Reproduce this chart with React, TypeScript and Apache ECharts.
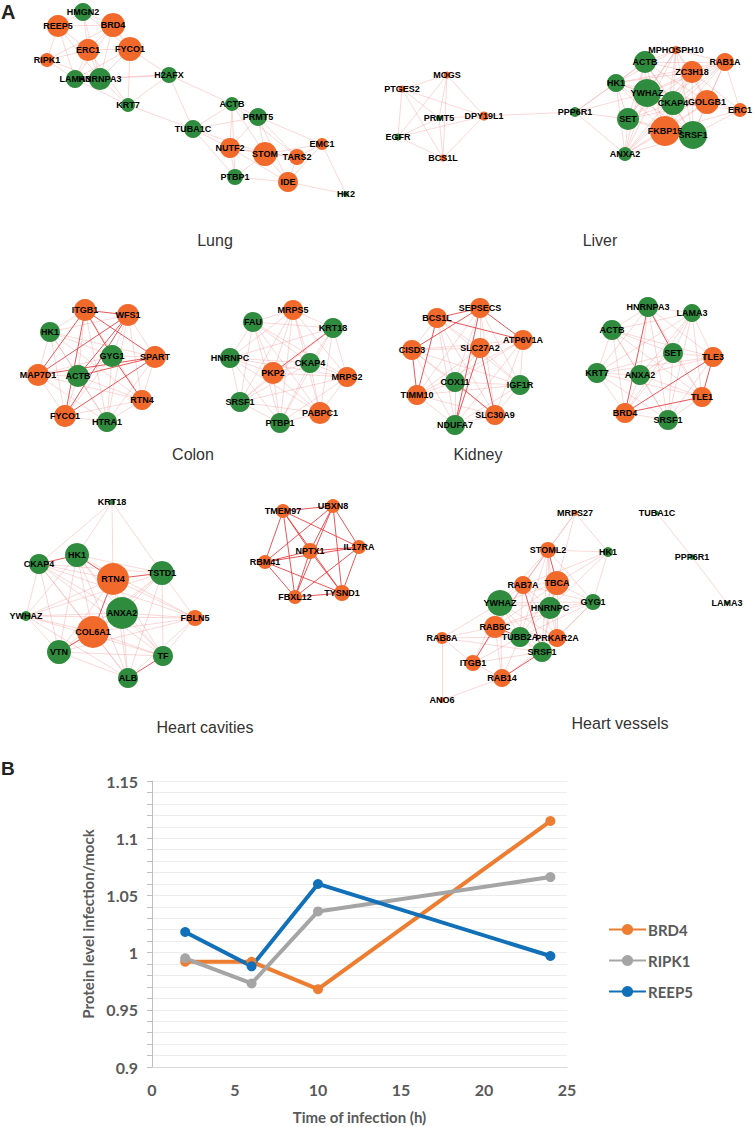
import React, { useEffect, useRef } from "react";
import * as echarts from "echarts";

type N = [string, number, number, number, "up" | "down"];

// ---------- Panel A: network tables (name, layout x, layout y, weight, regulation) ----------
const lungNodes: N[] = [
  ["HMGN2", 83, 12, 9, "down"], ["REEP5", 58, 26, 11, "up"], ["BRD4", 113, 25, 12, "up"],
  ["ERC1", 88, 50, 11, "up"], ["FYCO1", 130, 49, 12, "up"], ["RIPK1", 47, 60, 7, "up"],
  ["LAMA3", 75, 79, 9, "down"], ["HNRNPA3", 100, 79, 11, "down"], ["H2AFX", 169, 75, 8, "down"],
  ["KRT7", 128, 105, 7, "down"], ["ACTB", 232, 104, 7, "down"], ["PRMT5", 258, 117, 9, "down"],
  ["TUBA1C", 193, 129, 9, "down"], ["NUTF2", 230, 148, 10, "up"], ["STOM", 265, 154, 12, "up"],
  ["TARS2", 297, 157, 8, "up"], ["EMC1", 322, 144, 6, "up"], ["IDE", 288, 182, 10, "up"],
  ["PTBP1", 235, 177, 8, "down"], ["HK2", 346, 194, 3, "down"],
];
const lungEdges =
  "HMGN2-REEP5 HMGN2-BRD4 HMGN2-ERC1 HMGN2-FYCO1 HMGN2-HNRNPA3 REEP5-BRD4 REEP5-ERC1 REEP5-RIPK1 REEP5-LAMA3 REEP5-HNRNPA3 BRD4-ERC1 BRD4-FYCO1 BRD4-HNRNPA3 BRD4-LAMA3 BRD4-RIPK1 ERC1-FYCO1 ERC1-RIPK1 ERC1-LAMA3 ERC1-HNRNPA3 ERC1-KRT7 FYCO1-LAMA3 FYCO1-HNRNPA3 FYCO1-H2AFX FYCO1-KRT7 RIPK1-LAMA3 RIPK1-HNRNPA3 LAMA3-HNRNPA3 LAMA3-KRT7 LAMA3-H2AFX HNRNPA3-H2AFX HNRNPA3-KRT7 H2AFX-KRT7 H2AFX-TUBA1C H2AFX-ACTB KRT7-TUBA1C TUBA1C-ACTB TUBA1C-NUTF2 TUBA1C-PTBP1 TUBA1C-PRMT5 TUBA1C-STOM ACTB-PRMT5 ACTB-NUTF2 ACTB-STOM ACTB-PTBP1 ACTB-TARS2 PRMT5-NUTF2 PRMT5-STOM PRMT5-TARS2 PRMT5-EMC1 PRMT5-IDE NUTF2-STOM NUTF2-PTBP1 NUTF2-IDE NUTF2-TARS2 STOM-PTBP1 STOM-IDE STOM-TARS2 STOM-EMC1 TARS2-IDE TARS2-EMC1 EMC1-IDE PTBP1-IDE IDE-HK2 EMC1-HK2";

const liverNodes: N[] = [
  ["MOGS", 447, 75, 3.5, "up"], ["PTGES2", 402, 89, 3.5, "up"], ["PRMT5", 439, 118, 3, "down"],
  ["DPY19L1", 484, 116, 4.5, "up"], ["EGFR", 398, 137, 3.5, "down"], ["BCS1L", 443, 158, 3.5, "up"],
  ["MPHOSPH10", 676, 50, 4, "up"], ["RAB1A", 725, 62, 9, "up"], ["ACTB", 645, 62, 11, "down"],
  ["ZC3H18", 692, 72, 11, "up"], ["HK1", 616, 83, 9, "down"], ["YWHAZ", 647, 93, 14, "down"],
  ["CKAP4", 673, 103, 12, "down"], ["GOLGB1", 707, 102, 12, "up"], ["ERC1", 740, 110, 7, "up"],
  ["PPP6R1", 575, 112, 5, "down"], ["SET", 628, 119, 11, "down"], ["FKBP15", 665, 131, 15, "up"],
  ["SRSF1", 693, 135, 14, "down"], ["ANXA2", 625, 154, 7, "down"],
];
const liverEdges =
  "MOGS-PTGES2 MOGS-PRMT5 MOGS-DPY19L1 MOGS-BCS1L MOGS-EGFR PTGES2-EGFR PTGES2-PRMT5 PTGES2-BCS1L PTGES2-DPY19L1 PRMT5-EGFR PRMT5-BCS1L PRMT5-DPY19L1 EGFR-DPY19L1 EGFR-BCS1L BCS1L-DPY19L1 DPY19L1-PPP6R1 PPP6R1-HK1 PPP6R1-SET PPP6R1-ANXA2 PPP6R1-ACTB PPP6R1-YWHAZ ERC1-RAB1A ERC1-GOLGB1 ERC1-SRSF1 ERC1-ZC3H18 ERC1-CKAP4 ERC1-FKBP15";
const liverDense = ["MPHOSPH10", "RAB1A", "ACTB", "ZC3H18", "HK1", "YWHAZ", "CKAP4", "GOLGB1", "SET", "FKBP15", "SRSF1", "ANXA2"];

const colonNodesA: N[] = [
  ["ITGB1", 85, 310, 11, "up"], ["WFS1", 128, 315, 11, "up"], ["HK1", 50, 332, 10, "down"],
  ["GYG1", 112, 356, 11, "down"], ["SPART", 155, 357, 11, "up"], ["MAP7D1", 38, 375, 11, "up"],
  ["ACTB", 78, 376, 11, "down"], ["RTN4", 142, 400, 10, "up"], ["FYCO1", 65, 416, 11, "up"],
  ["HTRA1", 107, 422, 10, "down"],
];
const colonStrongA = "ITGB1-WFS1 ITGB1-GYG1 ITGB1-MAP7D1 ITGB1-FYCO1 WFS1-MAP7D1 WFS1-ACTB WFS1-FYCO1 SPART-FYCO1 SPART-ACTB SPART-MAP7D1 GYG1-RTN4 ITGB1-SPART";
const colonNodesB: N[] = [
  ["MRPS5", 293, 310, 10, "up"], ["FAU", 253, 322, 10, "down"], ["KRT18", 333, 328, 10, "down"],
  ["HNRNPC", 230, 358, 10, "down"], ["CKAP4", 310, 363, 10, "down"], ["PKP2", 273, 373, 11, "up"],
  ["MRPS2", 347, 377, 10, "up"], ["SRSF1", 240, 402, 10, "down"], ["PABPC1", 320, 413, 11, "up"],
  ["PTBP1", 280, 423, 10, "down"],
];
const colonStrongB = "PKP2-KRT18";

const kidneyNodesA: N[] = [
  ["SEPSECS", 480, 308, 10, "up"], ["BCS1L", 437, 318, 10, "up"], ["ATP6V1A", 523, 340, 10, "up"],
  ["CISD3", 412, 350, 10, "up"], ["SLC27A2", 480, 348, 10, "up"], ["COX11", 455, 382, 10, "down"],
  ["IGF1R", 520, 385, 10, "down"], ["TIMM10", 417, 395, 10, "up"], ["SLC30A9", 495, 415, 10, "up"],
  ["NDUFA7", 455, 425, 10, "down"],
];
const kidneyStrongA = "BCS1L-SEPSECS SEPSECS-CISD3 SEPSECS-ATP6V1A BCS1L-ATP6V1A CISD3-TIMM10 BCS1L-TIMM10 SLC27A2-SLC30A9 COX11-SLC30A9 SEPSECS-NDUFA7 SLC27A2-NDUFA7";
const kidneyNodesB: N[] = [
  ["HNRNPA3", 648, 307, 10, "down"], ["LAMA3", 692, 313, 9, "down"], ["ACTB", 612, 330, 10, "down"],
  ["SET", 673, 353, 10, "down"], ["TLE3", 713, 357, 10, "up"], ["KRT7", 597, 373, 10, "down"],
  ["ANXA2", 640, 375, 10, "down"], ["TLE1", 702, 397, 10, "up"], ["BRD4", 625, 413, 10, "up"],
  ["SRSF1", 668, 420, 10, "down"],
];
const kidneyStrongB = "HNRNPA3-BRD4 HNRNPA3-SET BRD4-TLE3 BRD4-TLE1 TLE3-TLE1";

const cavNodesA: N[] = [
  ["KRT18", 112, 502, 3, "down"], ["CKAP4", 39, 564, 10, "down"], ["HK1", 77, 555, 12, "down"],
  ["RTN4", 113, 579, 16, "up"], ["TSTD1", 162, 573, 12, "down"], ["YWHAZ", 26, 616, 5, "down"],
  ["ANXA2", 122, 613, 16, "down"], ["FBLN5", 195, 618, 8, "up"], ["COL6A1", 93, 632, 16, "up"],
  ["VTN", 59, 652, 12, "down"], ["TF", 163, 656, 10, "down"], ["ALB", 128, 678, 10, "down"],
];
const cavEdgesA = "KRT18-CKAP4 KRT18-HK1 KRT18-RTN4 KRT18-TSTD1";
const cavDenseA = ["CKAP4", "HK1", "RTN4", "TSTD1", "YWHAZ", "ANXA2", "FBLN5", "COL6A1", "VTN", "TF", "ALB"];
const cavStrongA = "RTN4-HK1 RTN4-TSTD1 COL6A1-VTN ALB-TF RTN4-COL6A1 HK1-CKAP4";
const cavNodesB: N[] = [
  ["TMEM97", 283, 511, 7, "up"], ["UBXN8", 333, 506, 7, "up"], ["IL17RA", 359, 547, 7, "up"],
  ["NPTX1", 310, 551, 8, "up"], ["RBM41", 265, 562, 7, "up"], ["FBXL12", 295, 597, 7, "up"],
  ["TYSND1", 342, 593, 8, "up"],
];

const vesNodes: N[] = [
  ["MRPS27", 575, 513, 3, "up"], ["TUBA1C", 657, 513, 2, "down"], ["STOML2", 548, 550, 8, "up"],
  ["HK1", 608, 552, 5, "down"], ["PPP6R1", 692, 557, 3, "down"], ["RAB7A", 523, 585, 9, "up"],
  ["TBCA", 557, 583, 12, "up"], ["YWHAZ", 500, 603, 13, "down"], ["HNRNPC", 550, 608, 11, "down"],
  ["GYG1", 593, 602, 8, "down"], ["LAMA3", 727, 603, 2, "down"], ["RAB5C", 495, 627, 11, "up"],
  ["TUBB2A", 520, 637, 10, "down"], ["PRKAR2A", 557, 638, 9, "up"], ["RAB8A", 442, 638, 6, "up"],
  ["SRSF1", 542, 652, 10, "down"], ["ITGB1", 473, 663, 8, "up"], ["RAB14", 502, 678, 9, "up"],
  ["ANO6", 442, 700, 3, "up"],
];
const vesEdges =
  "MRPS27-STOML2 MRPS27-HK1 MRPS27-TBCA MRPS27-RAB7A HK1-STOML2 HK1-TBCA HK1-GYG1 HK1-HNRNPC HK1-RAB7A RAB8A-RAB5C RAB8A-ITGB1 RAB8A-YWHAZ RAB8A-ANO6 RAB8A-TUBB2A RAB8A-SRSF1 ITGB1-RAB5C ITGB1-TUBB2A ITGB1-RAB14 ITGB1-SRSF1 ITGB1-YWHAZ ITGB1-RAB7A RAB14-RAB5C RAB14-TUBB2A RAB14-SRSF1 RAB14-ANO6 RAB14-PRKAR2A RAB14-YWHAZ TUBA1C-PPP6R1 PPP6R1-LAMA3";
const vesDense = ["RAB7A", "TBCA", "YWHAZ", "HNRNPC", "GYG1", "RAB5C", "TUBB2A", "PRKAR2A", "SRSF1", "STOML2"];
const vesStrong = "RAB7A-SRSF1 STOML2-TBCA RAB5C-ITGB1 RAB14-SRSF1 RAB5C-TUBB2A";

const panelTitles: [string, number, number][] = [
  ["Lung", 215, 240], ["Liver", 600, 240], ["Colon", 193, 454], ["Kidney", 478, 454],
  ["Heart cavities", 205, 727], ["Heart vessels", 620, 723],
];

// ---------- Panel B: line chart ----------
const hours = [2, 6, 10, 24];
const brd4 = [0.992, 0.992, 0.968, 1.115];
const ripk1 = [0.995, 0.973, 1.036, 1.066];
const reep5 = [1.018, 0.988, 1.06, 0.997];
const lineNames = ["BRD4", "RIPK1", "REEP5"];
const lineValues = [brd4, ripk1, reep5];

const ORANGE = "#F26A2B";
const GREEN = "#2F8C3E";
const LINE_COLORS = ["#ED7D31", "#A5A5A5", "#1170B8"];

function graphSeries(nodes: N[], edges: string, strong: string | "ALL", dense: string[] = []) {
  const pairs: [string, string][] = edges.split(/\s+/).filter(Boolean).map((s) => s.split("-") as [string, string]);
  for (let i = 0; i < dense.length; i++)
    for (let j = i + 1; j < dense.length; j++) pairs.push([dense[i], dense[j]]);
  const seen = new Set<string>();
  const strongSet = new Set(strong === "ALL" ? [] : strong.split(/\s+/).filter(Boolean));
  const links: any[] = [];
  pairs.forEach(([a, b]) => {
    const k = a < b ? a + "|" + b : b + "|" + a;
    if (seen.has(k)) return;
    seen.add(k);
    const st = strong === "ALL" || strongSet.has(a + "-" + b) || strongSet.has(b + "-" + a);
    links.push({
      source: a,
      target: b,
      lineStyle: st
        ? { color: "#E8383D", opacity: 0.85, width: 1 }
        : { color: "#F07A7A", opacity: 0.42, width: 0.7 },
    });
  });
  return {
    type: "graph",
    coordinateSystem: "cartesian2d",
    xAxisIndex: 0,
    yAxisIndex: 0,
    layout: "none",
    silent: true,
    data: nodes.map(([name, x, y, w, reg]) => ({
      name,
      value: [x, y],
      symbolSize: w * 2,
      itemStyle: { color: reg === "up" ? ORANGE : GREEN },
    })),
    links,
    label: {
      show: true,
      position: "inside",
      color: "#000",
      fontSize: 9,
      fontWeight: "bold",
      fontFamily: "Liberation Sans, Arial, sans-serif",
    },
    emphasis: { disabled: true },
  };
}

export default function App() {
  const ref = useRef<HTMLDivElement>(null);
  useEffect(() => {
    if (!ref.current) return;
    const chart = echarts.init(ref.current, undefined, { renderer: "svg" });
    const axisFont = { fontFamily: "Lato, sans-serif", fontWeight: "bold" as const, color: "#595959" };
    const option: any = {
      animation: false,
      backgroundColor: "#fff",
      grid: [
        { left: 0, top: 0, width: 754, height: 1127, show: false },
        { left: 152, top: 781, width: 415, height: 286, show: false },
      ],
      xAxis: [
        { gridIndex: 0, type: "value", min: 0, max: 754, show: false },
        {
          gridIndex: 1, type: "value", min: 0, max: 25, interval: 5,
          axisLine: { show: true, lineStyle: { color: "#D9D9D9", width: 1 } },
          axisTick: { show: false },
          splitLine: { show: false },
          axisLabel: { ...axisFont, fontSize: 16, margin: 14 },
          name: "Time of infection (h)",
          nameLocation: "middle",
          nameGap: 42,
          nameTextStyle: { ...axisFont, fontSize: 15 },
        },
      ],
      yAxis: [
        { gridIndex: 0, type: "value", min: 0, max: 1127, inverse: true, show: false },
        {
          gridIndex: 1, type: "value", min: 0.9, max: 1.15, interval: 0.01,
          axisLine: { show: true, lineStyle: { color: "#BFBFBF", width: 1 } },
          axisTick: { show: true, length: 5, lineStyle: { color: "#BFBFBF" } },
          splitLine: { show: true, lineStyle: { color: "#EDEDED", width: 1 } },
          axisLabel: {
            ...axisFont, fontSize: 16, margin: 14,
            formatter: (v: number) => {
              const c = Math.round(v * 100);
              return c % 5 === 0 ? String(c / 100) : "";
            },
          },
          name: "Protein level infection/mock",
          nameLocation: "middle",
          nameRotate: 90,
          nameGap: 52,
          nameTextStyle: { ...axisFont, fontSize: 15 },
        },
      ],
      legend: {
        orient: "vertical",
        left: 603,
        top: 917,
        itemWidth: 37,
        itemHeight: 14,
        itemGap: 16,
        data: lineNames,
        textStyle: { ...axisFont, fontSize: 15, padding: [0, 0, 0, -3] },
      },
      series: [
        graphSeries(lungNodes, lungEdges, ""),
        graphSeries(liverNodes, liverEdges, "", liverDense),
        graphSeries(colonNodesA, "", colonStrongA, colonNodesA.map((n) => n[0])),
        graphSeries(colonNodesB, "", colonStrongB, colonNodesB.map((n) => n[0])),
        graphSeries(kidneyNodesA, "", kidneyStrongA, kidneyNodesA.map((n) => n[0])),
        graphSeries(kidneyNodesB, "", kidneyStrongB, kidneyNodesB.map((n) => n[0])),
        graphSeries(cavNodesA, cavEdgesA, cavStrongA, cavDenseA),
        graphSeries(cavNodesB, "", "ALL", cavNodesB.map((n) => n[0])),
        graphSeries(vesNodes, vesEdges, vesStrong, vesDense),
        ...lineNames.map((name, i) => ({
          type: "line",
          name,
          xAxisIndex: 1,
          yAxisIndex: 1,
          data: hours.map((h, k) => [h, lineValues[i][k]]),
          symbol: "circle",
          symbolSize: 10,
          lineStyle: { width: 4, color: LINE_COLORS[i] },
          itemStyle: { color: LINE_COLORS[i] },
          emphasis: { disabled: true },
        })),
      ],
      graphic: [
        { type: "text", left: 1, top: 2, style: { text: "A", font: "bold 20px Liberation Sans, Arial", fill: "#222" } },
        { type: "text", left: 1, top: 759, style: { text: "B", font: "bold 19px Liberation Sans, Arial", fill: "#222" } },
        ...panelTitles.map(([t, x, y]) => ({
          type: "text",
          x,
          y,
          style: {
            text: t,
            font: "16px Liberation Sans, Arial",
            fill: "#333",
            textAlign: "center",
            textVerticalAlign: "middle",
          },
        })),
      ],
    };
    chart.setOption(option);
    return () => chart.dispose();
  }, []);
  return (
    <div
      ref={ref}
      style={{ position: "absolute", left: 0, top: 0, width: 754, height: 1127 }}
    />
  );
}
